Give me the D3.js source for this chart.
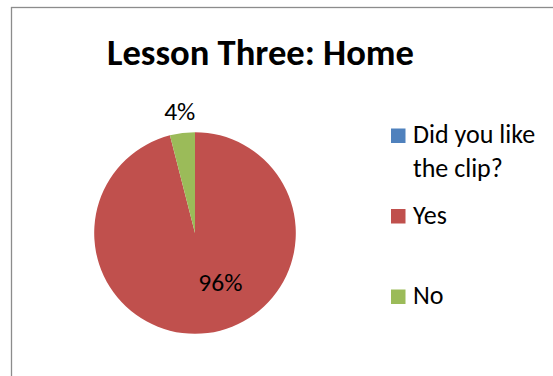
<!DOCTYPE html>
<html>
<head>
<meta charset="utf-8">
<script src="https://cdn.jsdelivr.net/npm/d3@7"></script>
<style>
  html, body { margin: 0; padding: 0; background: #fff; }
  svg { display: block; }
  text { font-family: Carlito, Calibri, "Noto Sans", sans-serif; fill: #000; }
</style>
</head>
<body>
<svg id="chart" width="553" height="376"></svg>
<script>
// Survey answers for the home lesson clip
const title = "Lesson Three: Home";
const categories = ["Did you like the clip?", "Yes", "No"];
const values = [0, 96, 4];
const colors = ["#4F81BD", "#C0504D", "#9BBB59"];

const width = 553, height = 376;
const svg = d3.select("#chart");

// chart frame (continues past the right and bottom edges)
svg.append("rect")
  .attr("x", 11.5).attr("y", 7.5)
  .attr("width", width + 20).attr("height", height + 20)
  .attr("fill", "#fff")
  .attr("stroke", "#8c8c8c")
  .attr("stroke-width", 1.3);

svg.append("text")
  .attr("x", 260.5).attr("y", 64.5)
  .attr("text-anchor", "middle")
  .attr("font-weight", "bold")
  .attr("font-size", 36.6)
  .text(title);

// pie, first slice starting at 12 o'clock and running clockwise
const cx = 195, cy = 233, radius = 100.8;
const total = d3.sum(values);
const pie = d3.pie().sort(null).value(d => d.value);
const arcs = pie(categories.map((c, i) => ({ name: c, value: values[i], color: colors[i] })));
const arc = d3.arc().innerRadius(0).outerRadius(radius);

const g = svg.append("g").attr("transform", `translate(${cx},${cy})`);

g.selectAll("path.slice")
  .data(arcs.filter(d => d.data.value > 0))
  .join("path")
  .attr("class", "slice")
  .attr("d", arc)
  .attr("fill", d => d.data.color);

// percentage labels: small slices outside the rim, large ones inside
const fmt = d3.format(".0%");
const labelSize = 25.5;
g.selectAll("text.label")
  .data(arcs.filter(d => d.data.value > 0))
  .join("text")
  .attr("class", "label")
  .attr("font-size", labelSize)
  .attr("text-anchor", "middle")
  .attr("transform", d => {
    const mid = (d.startAngle + d.endAngle) / 2;
    const share = d.data.value / total;
    const [x, y] = share < 0.1
      ? d3.pointRadial(mid, radius + 21)
      : d3.pointRadial(mid - 0.34, radius * 0.56);
    // vertically centre the digits on the anchor point
    return `translate(${x},${y + labelSize * 0.316})`;
  })
  .text(d => fmt(d.data.value / total));

// legend
const legendY = d3.scalePoint().domain(categories).range([143, 304]);
const legendX = 391, swatch = 14.5, textX = 413, lineH = 33.5, maxW = 138;

const items = svg.append("g").selectAll("g")
  .data(categories.map((c, i) => ({ name: c, color: colors[i] })))
  .join("g");

items.append("rect")
  .attr("x", legendX)
  .attr("y", d => legendY(d.name) - swatch)
  .attr("width", swatch).attr("height", swatch)
  .attr("fill", d => d.color);

items.append("text")
  .attr("x", textX)
  .attr("y", d => legendY(d.name))
  .attr("font-size", 26)
  .each(function(d) {
    const t = d3.select(this);
    const words = d.name.split(" ");
    let line = [], tspan = t.append("tspan").attr("x", textX).attr("dy", 0);
    for (const w of words) {
      line.push(w);
      tspan.text(line.join(" "));
      if (tspan.node().getComputedTextLength() > maxW && line.length > 1) {
        line.pop();
        tspan.text(line.join(" "));
        line = [w];
        tspan = t.append("tspan").attr("x", textX).attr("dy", lineH).text(w);
      }
    }
  });
</script>
</body>
</html>
